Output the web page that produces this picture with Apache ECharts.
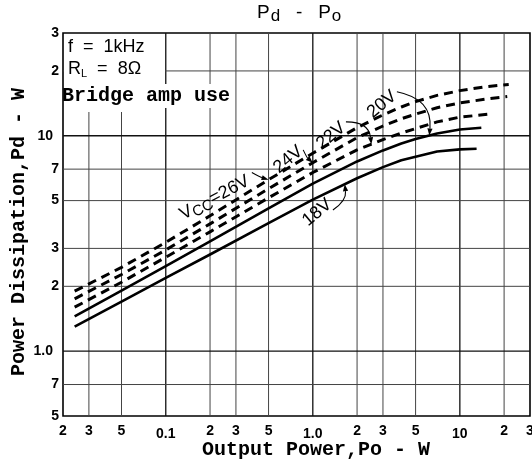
<!DOCTYPE html>
<html>
<head>
<meta charset="utf-8">
<script src="https://cdn.jsdelivr.net/npm/echarts@6/dist/echarts.min.js"></script>
<style>
html,body{margin:0;padding:0;background:#fff}
#chart{width:532px;height:468px}
</style>
</head>
<body>
<div id="chart"></div>
<script>
// Axis ranges (log-log)
const X_MIN = 0.02, X_MAX = 30;
const Y_MIN = 0.5, Y_MAX = 30;

// Tick positions and their printed labels
const xTicks = [0.02, 0.03, 0.05, 0.1, 0.2, 0.3, 0.5, 1, 2, 3, 5, 10, 20, 30];
const xTickLabels = ['2', '3', '5', '0.1', '2', '3', '5', '1.0', '2', '3', '5', '10', '2', '3'];
const yTicks = [0.5, 0.7, 1, 2, 3, 5, 7, 10, 20, 30];
const yTickLabels = ['5', '7', '1.0', '2', '3', '5', '7', '10', '2', '3'];

// Pd (W) versus Po (W) for each supply voltage
const vcc26 = [[0.024, 1.90], [0.05, 2.45], [0.1, 3.2], [0.2, 4.25], [0.5, 6.25], [1, 8.3], [2, 10.9], [3, 12.5], [4, 13.6], [5, 14.4], [7, 15.4], [10, 16.2], [15, 16.9], [21.5, 17.3]];
const vcc24 = [[0.024, 1.75], [0.05, 2.27], [0.1, 2.95], [0.2, 3.9], [0.5, 5.68], [1, 7.5], [2, 9.8], [3, 11.1], [4, 12.0], [5, 12.6], [7, 13.5], [10, 14.2], [15, 14.8], [21, 15.2]];
const vcc22 = [[0.024, 1.60], [0.05, 2.09], [0.1, 2.73], [0.2, 3.58], [0.5, 5.15], [1, 6.75], [2, 8.6], [3, 9.6], [4, 10.3], [5, 10.8], [7, 11.6], [10, 12.2], [15.8, 12.6]];
const vcc20 = [[0.024, 1.45], [0.05, 1.91], [0.1, 2.48], [0.2, 3.23], [0.5, 4.6], [1, 6.0], [2, 7.6], [3, 8.55], [4, 9.2], [5, 9.65], [7, 10.25], [10, 10.7], [14, 10.9]];
const vcc18 = [[0.024, 1.30], [0.05, 1.70], [0.1, 2.19], [0.2, 2.81], [0.5, 3.93], [1, 5.05], [2, 6.35], [3, 7.15], [4, 7.7], [5, 8.0], [7, 8.45], [10, 8.65], [13, 8.7]];

// Curve captions: anchor (Po, Pd) and text
const captionAnchors = [[0.215, 5.15], [0.68, 7.75], [1.33, 10.0], [2.95, 14.0], [1.07, 4.4]];
const captionTexts = ['V{sub|CC}=26V', '24V', '22V', '20V', '18V'];

// Leader arrows: tail (Po, Pd) and the Po where the head meets its curve
const arrowTails = [[0.385, 6.75], [0.86, 8.6], [1.68, 11.6], [3.73, 16.0], [1.37, 4.52]];
const arrowHeadPo = [0.5, 1.0, 2.5, 6.2, 1.65];

const curves = [vcc26, vcc24, vcc22, vcc20, vcc18];
const captionAngles = [28, 40, 40, 40, 40];
const arrowBend = [0.05, 0.1, -0.45, -0.45, 0.3];

const chart = echarts.init(document.getElementById('chart'), null, { renderer: 'canvas' });

const isDecade = v => Math.abs(Math.log10(v) - Math.round(Math.log10(v))) < 1e-9;

// Pd on a curve at a given Po (straight in log-log between points)
function pdAt(pts, po) {
  for (let i = 0; i < pts.length - 1; i++) {
    const a = pts[i], b = pts[i + 1];
    if (po >= a[0] && po <= b[0]) {
      const t = (Math.log(po) - Math.log(a[0])) / (Math.log(b[0]) - Math.log(a[0]));
      return Math.exp(Math.log(a[1]) + t * (Math.log(b[1]) - Math.log(a[1])));
    }
  }
  return pts[pts.length - 1][1];
}

const sans = 'Liberation Sans, Arial, sans-serif';
const monoFont = 'Liberation Mono, Courier New, monospace';
const tickFont = { fontFamily: sans, fontWeight: 'bold', fontSize: 14, fill: '#000' };

function curveSeries(name, data, dashed) {
  return {
    name, type: 'line', data, showSymbol: false, smooth: false,
    silent: true, z: 5,
    lineStyle: { color: '#000', width: dashed ? 3 : 2.6, type: dashed ? [9, 6] : 'solid', cap: 'butt', join: 'round' }
  };
}

const option = {
  backgroundColor: '#fff',
  animation: false,
  grid: { left: 63, right: 2, top: 33, bottom: 52, show: true, borderColor: '#000', borderWidth: 1.6, backgroundColor: 'transparent' },
  xAxis: {
    type: 'log', logBase: 10, min: X_MIN, max: X_MAX,
    axisLine: { show: false }, axisTick: { show: false }, axisLabel: { show: false }, splitLine: { show: false }
  },
  yAxis: {
    type: 'log', logBase: 10, min: Y_MIN, max: Y_MAX,
    axisLine: { show: false }, axisTick: { show: false }, axisLabel: { show: false }, splitLine: { show: false }
  },
  graphic: [
    // title
    {
      type: 'text', left: 257, top: 3, z: 100,
      style: {
        text: 'P{sub|d}   -   P{sub|o}',
        font: '19px ' + sans, fill: '#000',
        rich: { sub: { fontSize: 17, fontFamily: sans, padding: [7, 0, 0, 1] } }
      }
    },
    // white panels behind the condition notes
    { type: 'rect', shape: { x: 64, y: 34, width: 101, height: 78 }, style: { fill: '#fff' }, z: 90 },
    { type: 'rect', shape: { x: 165, y: 84, width: 70, height: 24 }, style: { fill: '#fff' }, z: 90 },
    {
      type: 'text', left: 68, top: 38, z: 100,
      style: { text: 'f  =  1kHz', font: '18px ' + sans, fill: '#000' }
    },
    {
      type: 'text', left: 68, top: 60, z: 100,
      style: {
        text: 'R{sub|L}  =  8Ω', font: '18px ' + sans, fill: '#000',
        rich: { sub: { fontSize: 11, fontFamily: sans, padding: [10, 0, 0, 0] } }
      }
    },
    {
      type: 'text', left: 62, top: 86, z: 100,
      style: { text: 'Bridge amp use', font: 'bold 20px ' + monoFont, fill: '#000' }
    },
    // axis titles
    {
      type: 'text', left: 202, top: 440, z: 100,
      style: { text: 'Output Power,Po - W', font: 'bold 20px ' + monoFont, fill: '#000' }
    },
    {
      type: 'text', x: 19, y: 232, rotation: Math.PI / 2, z: 100,
      style: { text: 'Power Dissipation,Pd - W', font: 'bold 20px ' + monoFont, fill: '#000', align: 'center', verticalAlign: 'middle' }
    }
  ],
  series: [
    // vertical grid lines + Po tick labels
    {
      type: 'custom', silent: true, clip: false, z: 1,
      data: xTicks.map(v => [v, Y_MIN]),
      renderItem(params, api) {
        const v = xTicks[params.dataIndex];
        const b = api.coord([v, Y_MIN]), t = api.coord([v, Y_MAX]);
        const dec = isDecade(v);
        const children = [];
        if (v > X_MIN && v < X_MAX) {
          children.push({ type: 'line', shape: { x1: b[0], y1: b[1], x2: t[0], y2: t[1] },
            style: { stroke: dec ? '#111' : '#444', lineWidth: dec ? 1.3 : 1 } });
        }
        children.push({ type: 'text', x: b[0], y: b[1] + (dec ? 18 : 8),
          style: Object.assign({ text: xTickLabels[params.dataIndex], align: 'center', verticalAlign: dec ? 'middle' : 'top' }, tickFont) });
        return { type: 'group', children };
      }
    },
    // horizontal grid lines + Pd tick labels
    {
      type: 'custom', silent: true, clip: false, z: 1,
      data: yTicks.map(v => [X_MIN, v]),
      renderItem(params, api) {
        const v = yTicks[params.dataIndex];
        const l = api.coord([X_MIN, v]), r = api.coord([X_MAX, v]);
        const dec = isDecade(v);
        const children = [];
        if (v > Y_MIN && v < Y_MAX) {
          children.push({ type: 'line', shape: { x1: l[0], y1: l[1], x2: r[0], y2: r[1] },
            style: { stroke: dec ? '#111' : '#444', lineWidth: dec ? 1.3 : 1 } });
        }
        children.push({ type: 'text', x: l[0] - (dec ? 10 : 4), y: l[1],
          style: Object.assign({ text: yTickLabels[params.dataIndex], align: 'right', verticalAlign: 'middle' }, tickFont) });
        return { type: 'group', children };
      }
    },
    curveSeries('26V', vcc26, true),
    curveSeries('24V', vcc24, true),
    curveSeries('22V', vcc22, true),
    curveSeries('20V', vcc20, false),
    curveSeries('18V', vcc18, false),
    // curve captions
    {
      type: 'custom', silent: true, clip: false, z: 10,
      data: captionAnchors,
      renderItem(params, api) {
        const i = params.dataIndex;
        const p = api.coord(captionAnchors[i]);
        return {
          type: 'text', x: p[0], y: p[1], rotation: captionAngles[i] * Math.PI / 180,
          style: {
            text: captionTexts[i], fill: '#000', align: 'center', verticalAlign: 'middle',
            font: '18px ' + sans,
            rich: { sub: { fontSize: 15, fontFamily: sans, padding: [8, 0, 0, 0] } }
          }
        };
      }
    },
    // leader arrows from captions to their curves
    {
      type: 'custom', silent: true, clip: false, z: 11,
      data: arrowTails,
      renderItem(params, api) {
        const i = params.dataIndex;
        const s = api.coord(arrowTails[i]);
        const hx = arrowHeadPo[i];
        const h = api.coord([hx, pdAt(curves[i], hx)]);
        const mx = (s[0] + h[0]) / 2, my = (s[1] + h[1]) / 2;
        const dx = h[0] - s[0], dy = h[1] - s[1];
        const cx = mx - dy * arrowBend[i], cy = my + dx * arrowBend[i];
        const ang = Math.atan2(h[1] - cy, h[0] - cx);
        const L = 7, W = 2.6;
        const bx = h[0] - L * Math.cos(ang), by = h[1] - L * Math.sin(ang);
        return {
          type: 'group',
          children: [
            { type: 'path', shape: { pathData: `M${s[0]},${s[1]} Q${cx},${cy} ${bx},${by}` },
              style: { stroke: '#000', lineWidth: 1.1, fill: null } },
            { type: 'polygon', shape: { points: [[h[0], h[1]],
                [bx - W * Math.sin(ang), by + W * Math.cos(ang)],
                [bx + W * Math.sin(ang), by - W * Math.cos(ang)]] },
              style: { fill: '#000' } }
          ]
        };
      }
    }
  ]
};

chart.setOption(option);
</script>
</body>
</html>
